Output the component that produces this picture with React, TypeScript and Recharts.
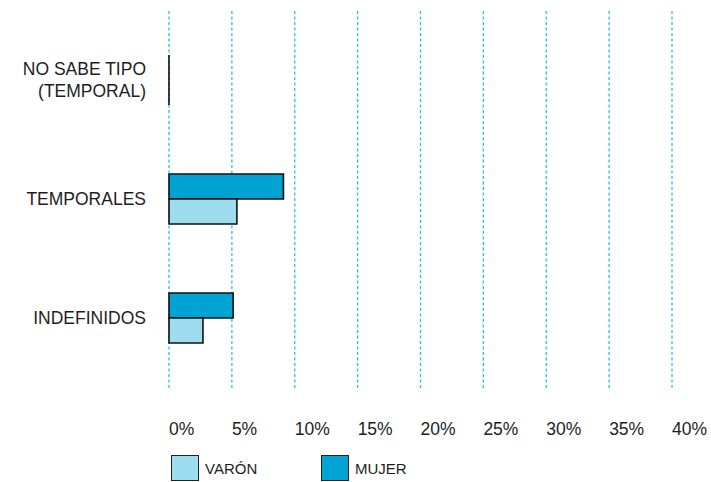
import React from 'react'
import { BarChart, Bar, XAxis, YAxis, CartesianGrid } from 'recharts'

const categories = ['NO SABE TIPO\n(TEMPORAL)', 'TEMPORALES', 'INDEFINIDOS']
const mujer = [0, 9.1, 5.1]
const varon = [0, 5.4, 2.7]
const xTicks = [0, 5, 10, 15, 20, 25, 30, 35, 40]

const data = categories.map((name, i) => ({ name, mujer: mujer[i], varon: varon[i] }))

const FONT = '"Liberation Sans", Arial, Helvetica, sans-serif'
const MUJER_COLOR = '#00a3d4'
const VARON_COLOR = '#9edcf0'

// draws as a path so zero-width bars still show their outline
const BarShape = (props: any) => {
  const { x, y, width, height, fill } = props
  const w = Math.max(0, width || 0)
  return (
    <path
      d={`M${x},${y}h${w}v${height}h${-w}Z`}
      fill={fill}
      stroke="#111"
      strokeWidth={1.6}
    />
  )
}

const YTick = (props: any) => {
  const { y, payload } = props
  const lines = String(payload.value).split('\n')
  const lh = 22
  const start = y - ((lines.length - 1) * lh) / 2
  return (
    <text textAnchor="end" fontSize={17.5} fill="#1e1e1e" fontFamily={FONT}>
      {lines.map((l, i) => (
        <tspan key={i} x={146} y={start + i * lh} dy="0.35em">
          {l}
        </tspan>
      ))}
    </text>
  )
}

const XTick = (props: any) => {
  const { x, y, payload } = props
  return (
    <text x={x} y={y + 38} textAnchor="start" fontSize={17.5} fill="#1e1e1e" fontFamily={FONT}>
      {payload.value}%
    </text>
  )
}

const LegendItem = ({ color, label }: { color: string; label: string }) => (
  <div style={{ display: 'flex', alignItems: 'center', width: 150 }}>
    <div
      style={{
        width: 28,
        height: 26,
        background: color,
        border: '1.5px solid #222',
        boxSizing: 'border-box',
      }}
    />
    <span style={{ marginLeft: 6, fontSize: 15, color: '#1e1e1e', fontFamily: FONT }}>{label}</span>
  </div>
)

export default function App() {
  return (
    <div style={{ position: 'absolute', left: 0, top: 0, width: 711, height: 482, background: '#fff' }}>
      <BarChart
        width={711}
        height={482}
        data={data}
        layout="vertical"
        margin={{ top: 11, right: 39, left: 0, bottom: 33 }}
        barSize={25}
        barGap={0}
      >
        <CartesianGrid
          horizontal={false}
          stroke="#24bfee"
          strokeDasharray="3 2.5"
          strokeWidth={1.3}
        />
        <XAxis
          type="number"
          domain={[0, 40]}
          ticks={xTicks}
          axisLine={false}
          tickLine={false}
          height={60}
          tick={<XTick />}
          interval={0}
        />
        <YAxis
          type="category"
          dataKey="name"
          width={169}
          axisLine={false}
          tickLine={false}
          padding={{ top: 9, bottom: 12 }}
          tick={<YTick />}
        />
        <Bar dataKey="mujer" fill={MUJER_COLOR} shape={<BarShape />} isAnimationActive={false} />
        <Bar dataKey="varon" fill={VARON_COLOR} shape={<BarShape />} isAnimationActive={false} />
      </BarChart>
      <div style={{ position: 'absolute', left: 171, top: 455, display: 'flex' }}>
        <LegendItem color={VARON_COLOR} label="VARÓN" />
        <LegendItem color={MUJER_COLOR} label="MUJER" />
      </div>
    </div>
  )
}
